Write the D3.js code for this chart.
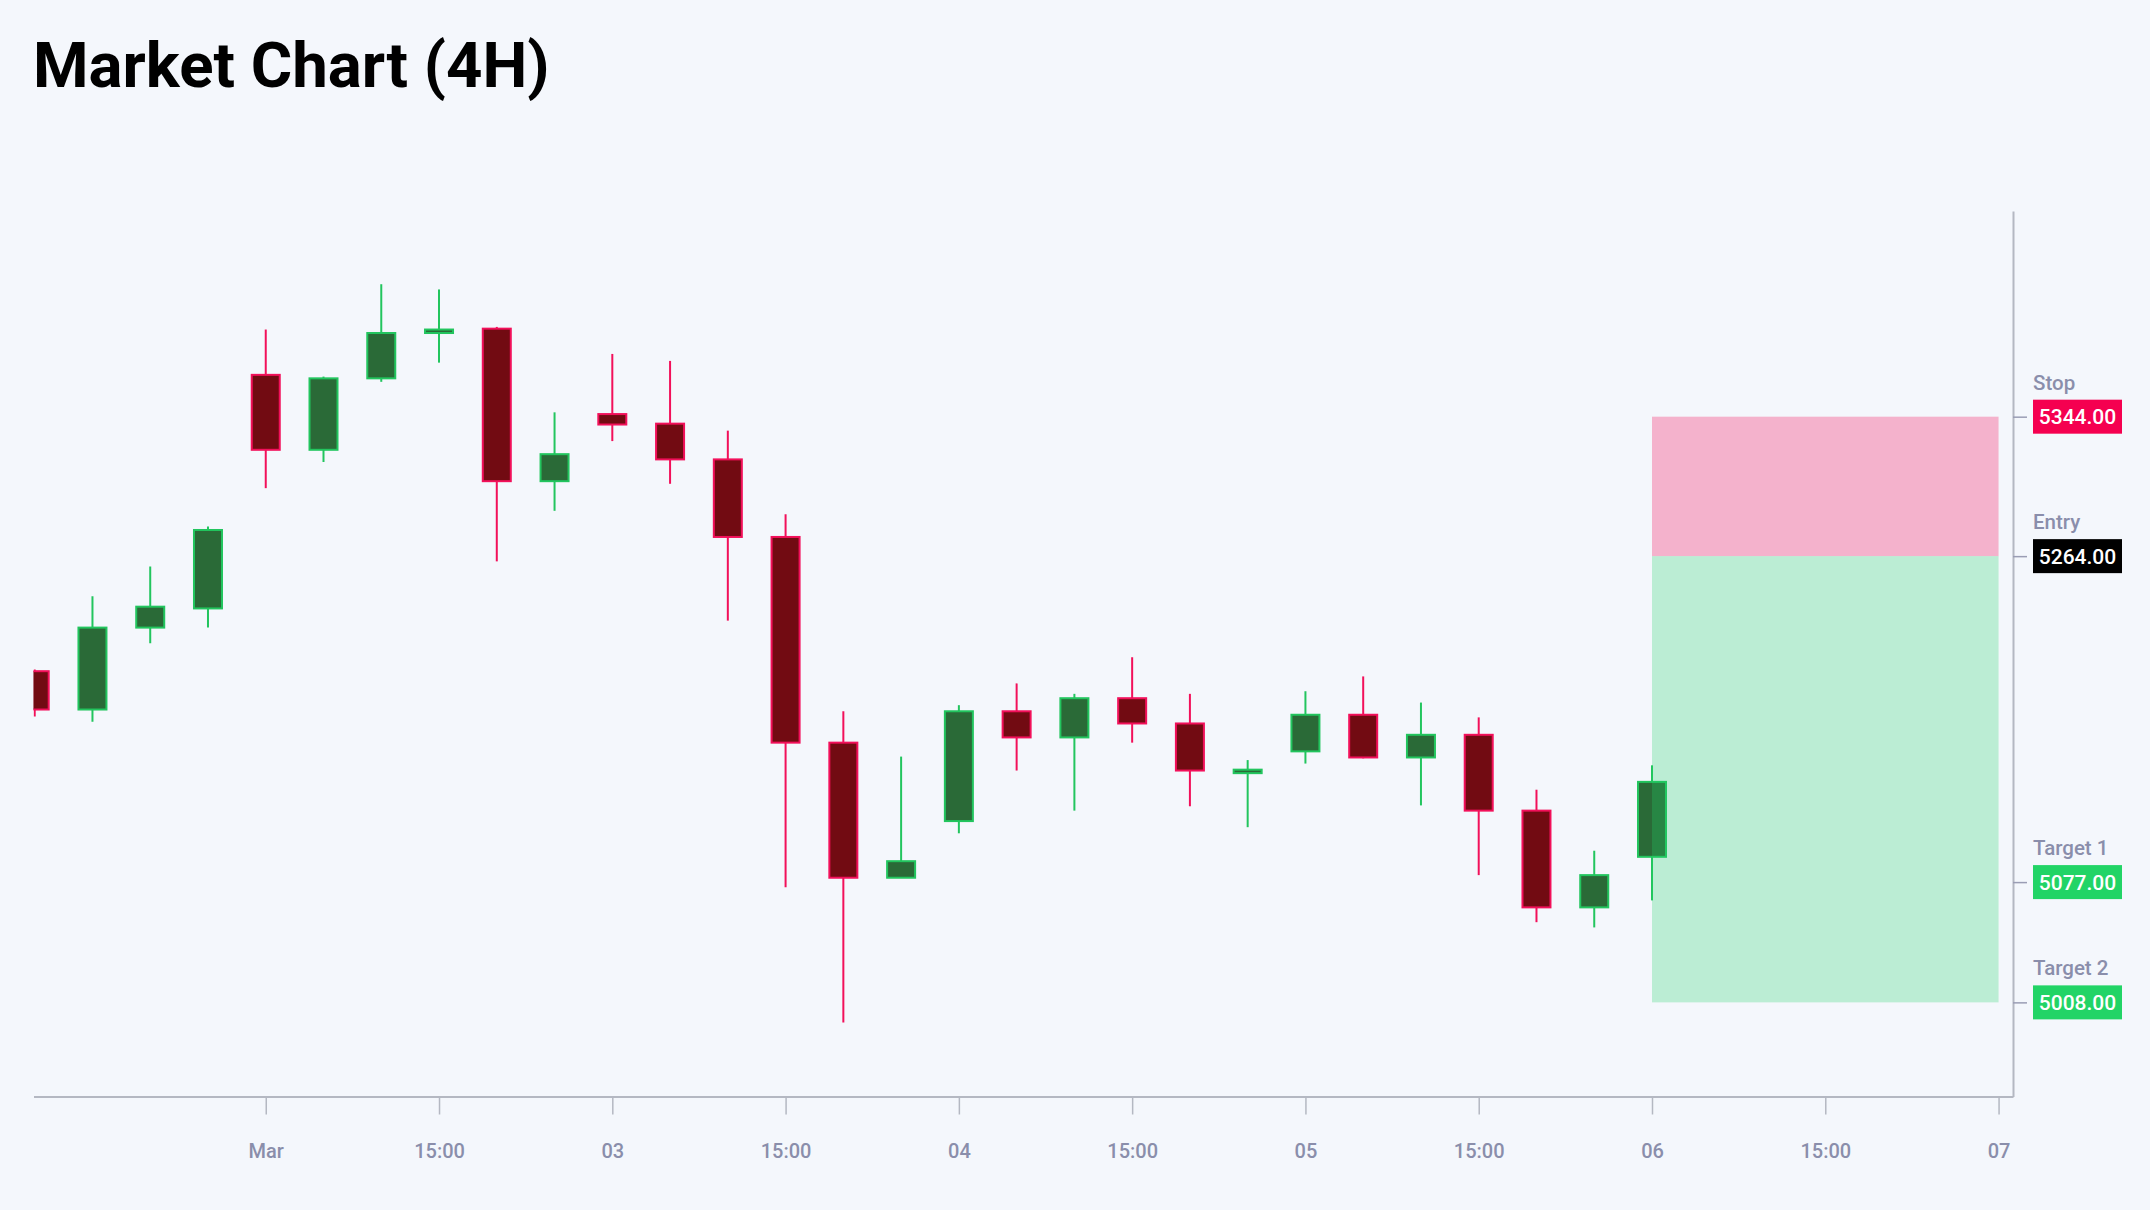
<!DOCTYPE html>
<html>
<head>
<meta charset="utf-8">
<script src="https://cdn.jsdelivr.net/npm/d3@7"></script>
<style>
  html, body { margin: 0; padding: 0; background: #f4f7fc; }
  svg { display: block; font-family: Roboto, "Noto Sans", sans-serif; }
</style>
</head>
<body>
<svg id="chart" width="2150" height="1210"></svg>
<script>
// ---- data ----
const times = [
  "2024-03-01T08:00Z","2024-03-01T12:00Z","2024-03-01T16:00Z","2024-03-01T20:00Z",
  "2024-03-02T00:00Z","2024-03-02T04:00Z","2024-03-02T08:00Z","2024-03-02T12:00Z","2024-03-02T16:00Z","2024-03-02T20:00Z",
  "2024-03-03T00:00Z","2024-03-03T04:00Z","2024-03-03T08:00Z","2024-03-03T12:00Z","2024-03-03T16:00Z","2024-03-03T20:00Z",
  "2024-03-04T00:00Z","2024-03-04T04:00Z","2024-03-04T08:00Z","2024-03-04T12:00Z","2024-03-04T16:00Z","2024-03-04T20:00Z",
  "2024-03-05T00:00Z","2024-03-05T04:00Z","2024-03-05T08:00Z","2024-03-05T12:00Z","2024-03-05T16:00Z","2024-03-05T20:00Z",
  "2024-03-06T00:00Z"
];
const opens  = [5198,5176,5223,5234,5368,5325,5366,5392,5394.5,5307,5345.5,5340,5319.5,5275,5157,5079.5,5112,5175,5160,5182.5,5168,5139.5,5152,5173,5148.5,5161.5,5118,5062.5,5091.5];
const highs  = [5199,5241,5258,5281,5394,5367,5420,5417,5395.5,5346.5,5380,5376,5336,5288,5175,5149,5178.5,5191,5185,5206,5185,5147,5186.5,5195,5180,5171.5,5130,5095,5144];
const lows   = [5172,5169,5214,5223,5303,5318,5364,5375,5261,5290,5330,5305.5,5227,5074,4996.5,5079.5,5105,5141,5118,5157,5120.5,5108.5,5145,5148,5121,5081,5054,5051,5066.5];
const closes = [5176,5223,5235,5279,5325,5366,5392,5394,5307,5322.5,5339.5,5319.5,5275,5157,5079.5,5089,5175,5160,5182.5,5168,5141,5141.5,5173,5148.5,5161.5,5118,5062.5,5081,5134.5];

const tickTimes = [
  "2024-03-02T00:00Z","2024-03-02T12:00Z","2024-03-03T00:00Z","2024-03-03T12:00Z","2024-03-04T00:00Z","2024-03-04T12:00Z",
  "2024-03-05T00:00Z","2024-03-05T12:00Z","2024-03-06T00:00Z","2024-03-06T12:00Z","2024-03-07T00:00Z"
];
const tickLabels = ["Mar","15:00","03","15:00","04","15:00","05","15:00","06","15:00","07"];

const levelNames  = ["Stop","Entry","Target 1","Target 2"];
const levelValues = [5344, 5264, 5077, 5008];
const levelColors = ["#f50050", "#000000", "#22d466", "#22d466"];

const zoneStart = "2024-03-06T00:00Z";
const zoneEnd   = "2024-03-07T00:00Z";
const xDomain = ["2024-03-01T07:55Z", "2024-03-07T01:00Z"];
const yDomain = [4954, 5462];

// ---- setup ----
const svg = d3.select("#chart");
const W = 2150, H = 1210;
const plotLeft = 33.5, plotRight = 2013, plotTop = 211, plotBottom = 1096.5;

svg.append("rect").attr("width", W).attr("height", H).attr("fill", "#f4f7fc");

svg.append("text")
  .attr("x", 33).attr("y", 87)
  .attr("font-size", 63.5).attr("font-weight", 700).attr("fill", "#000")
  .text("Market Chart (4H)");

const x = d3.scaleUtc().domain(xDomain.map(d => new Date(d))).range([plotLeft, plotRight]);
const y = d3.scaleLinear().domain(yDomain).range([plotBottom, plotTop]);

const data = times.map((t, i) => ({ t: new Date(t), o: opens[i], h: highs[i], l: lows[i], c: closes[i] }));

svg.append("defs").append("clipPath").attr("id", "plotclip")
  .append("rect").attr("x", plotLeft).attr("y", plotTop)
  .attr("width", plotRight - plotLeft).attr("height", plotBottom - plotTop);

const axisColor = "#b4b8c2";
const labelColor = "#8a8eab";

// x axis
const xAxis = d3.axisBottom(x)
  .tickValues(tickTimes.map(d => new Date(d)))
  .tickFormat((d, i) => tickLabels[i])
  .tickSize(18).tickSizeOuter(0).tickPadding(29);
const gx = svg.append("g").attr("transform", `translate(0,${plotBottom})`).call(xAxis);
gx.select(".domain").attr("stroke", axisColor).attr("stroke-width", 2);
gx.selectAll(".tick line").attr("stroke", axisColor).attr("stroke-width", 1.5);
gx.selectAll(".tick text").attr("fill", labelColor).attr("font-size", 20)
  .attr("font-weight", 500).attr("font-family", "Roboto, sans-serif");

// y axis (right)
const yAxis = d3.axisRight(y).tickValues(levelValues).tickFormat("").tickSize(14).tickSizeOuter(0);
const gy = svg.append("g").attr("transform", `translate(${plotRight},0)`).call(yAxis);
gy.select(".domain").attr("stroke", axisColor).attr("stroke-width", 2);
gy.selectAll(".tick line").attr("stroke", "#9a9db4").attr("stroke-width", 1.5);

// candles
const upStroke = "#22c55e", upFill = "#2a6a37";
const dnStroke = "#f2105a", dnFill = "#720b12";
const bodyW = 28;
const plot = svg.append("g").attr("clip-path", "url(#plotclip)");

const cg = plot.selectAll("g.candle").data(data).join("g").attr("class", "candle");
cg.append("line")
  .attr("x1", d => x(d.t)).attr("x2", d => x(d.t))
  .attr("y1", d => y(d.h)).attr("y2", d => y(d.l))
  .attr("stroke", d => d.c >= d.o ? upStroke : dnStroke)
  .attr("stroke-width", 2);
cg.append("rect")
  .attr("x", d => x(d.t) - bodyW / 2)
  .attr("width", bodyW)
  .attr("y", d => y(Math.max(d.o, d.c)))
  .attr("height", d => Math.max(1, Math.abs(y(d.o) - y(d.c))))
  .attr("fill", d => d.c >= d.o ? upFill : dnFill)
  .attr("stroke", d => d.c >= d.o ? upStroke : dnStroke)
  .attr("stroke-width", 2);

// zones
const zx0 = x(new Date(zoneStart)), zx1 = x(new Date(zoneEnd));
plot.append("rect")
  .attr("x", zx0).attr("width", zx1 - zx0)
  .attr("y", y(levelValues[0])).attr("height", y(levelValues[1]) - y(levelValues[0]))
  .attr("fill", "#f50050").attr("fill-opacity", 0.28);
plot.append("rect")
  .attr("x", zx0).attr("width", zx1 - zx0)
  .attr("y", y(levelValues[1])).attr("height", y(levelValues[3]) - y(levelValues[1]))
  .attr("fill", "#22d466").attr("fill-opacity", 0.27);

// level labels
const lg = svg.append("g").selectAll("g").data(levelValues).join("g")
  .attr("transform", d => `translate(2033,${y(d)})`);
lg.append("text")
  .attr("x", 0).attr("y", -27)
  .attr("font-size", 20.5).attr("font-weight", 500).attr("fill", labelColor)
  .text((d, i) => levelNames[i]);
lg.append("rect")
  .attr("x", 0).attr("y", -17).attr("width", 89).attr("height", 34)
  .attr("fill", (d, i) => levelColors[i]);
lg.append("text")
  .attr("x", 44.5).attr("y", 0).attr("dy", "0.36em")
  .attr("text-anchor", "middle")
  .attr("font-size", 21).attr("font-weight", 500).attr("fill", "#fff")
  .text(d => d3.format(".2f")(d));
</script>
</body>
</html>
